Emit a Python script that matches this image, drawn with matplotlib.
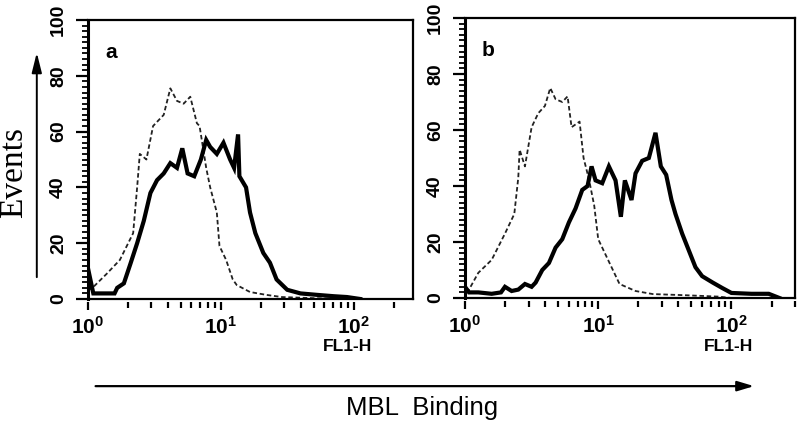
import matplotlib
matplotlib.use("Agg")
import matplotlib.pyplot as plt
import numpy as np
from matplotlib.ticker import FixedLocator, FixedFormatter, MultipleLocator, NullFormatter

plt.rcParams['mathtext.fontset'] = 'custom'
plt.rcParams['mathtext.rm'] = 'Liberation Sans:bold'
plt.rcParams['mathtext.it'] = 'Liberation Sans:bold'
plt.rcParams['mathtext.bf'] = 'Liberation Sans:bold'

# ---------------- data (log10 of FL1-H channel, events) ----------------
a_ctrl_log = [0.00, 0.04, 0.14, 0.24, 0.34, 0.37, 0.39, 0.44, 0.49, 0.57, 0.62, 0.67,
              0.72, 0.77, 0.82, 0.84, 0.89, 0.92, 0.97, 0.99, 1.04, 1.09, 1.12, 1.22,
              1.34, 1.46, 1.70, 2.00]
a_ctrl_val = [3, 4.3, 9, 14, 23.6, 40, 52, 50, 62, 66, 75.5, 71,
              70, 72.5, 63, 62, 47, 40, 31, 19, 14, 7, 5, 2.5,
              1.5, 0.7, 0.3, 0]

a_mbl_log = [0.00, 0.04, 0.10, 0.20, 0.22, 0.27, 0.32, 0.37, 0.42, 0.47, 0.52, 0.57,
             0.62, 0.67, 0.71, 0.75, 0.80, 0.85, 0.89, 0.92, 0.97, 1.02, 1.07, 1.10,
             1.13, 1.14, 1.19, 1.22, 1.26, 1.32, 1.37, 1.42, 1.50, 1.60, 1.72, 1.85,
             1.95, 2.05]
a_mbl_val = [11, 2, 2, 2, 4, 5.6, 12.7, 20, 28, 38, 42.6, 45,
             48.7, 47, 54, 45, 44, 50, 57, 54.5, 52, 56, 50, 47,
             59, 44, 40, 31, 23.6, 16.5, 13, 7, 3.3, 2, 1.5, 1,
             0.7, 0]

b_ctrl_log = [0.00, 0.03, 0.10, 0.20, 0.30, 0.37, 0.40, 0.41, 0.45, 0.50, 0.55, 0.60,
              0.64, 0.68, 0.73, 0.77, 0.80, 0.86, 0.89, 0.93, 0.97, 1.00, 1.05, 1.10,
              1.16, 1.28, 1.41, 1.65, 1.90, 2.00]
b_ctrl_val = [3, 3, 9, 13.6, 23, 30, 43, 53, 47, 61, 66, 68.6,
              75, 71, 70, 72, 61, 63, 50, 42.5, 33, 21, 16, 11,
              5, 2.5, 1.4, 1, 0.5, 0]

b_mbl_log = [0.00, 0.03, 0.10, 0.20, 0.27, 0.30, 0.35, 0.40, 0.45, 0.50, 0.53, 0.58,
             0.63, 0.68, 0.73, 0.78, 0.83, 0.88, 0.92, 0.95, 0.98, 1.03, 1.08, 1.13,
             1.17, 1.20, 1.25, 1.28, 1.33, 1.38, 1.43, 1.47, 1.51, 1.55, 1.58, 1.63,
             1.68, 1.73, 1.78, 1.86, 1.93, 2.00, 2.15, 2.28, 2.36]
b_mbl_val = [4, 2, 2, 1.5, 2, 4, 2.5, 3, 5, 4, 5.5, 10,
             12.5, 18, 21, 27, 32, 38.6, 40, 47, 42, 41, 47, 42,
             29, 42, 35, 44.5, 49, 50, 59, 47, 44, 35, 30, 23,
             17, 11, 7.8, 5.5, 3.6, 1.8, 1.5, 1.5, 0]

panel_labels = ["a", "b"]
x_limits = [(1, 280), (1, 300)]
x_major = [1, 10, 100]
x_major_labels = [r"$10^{0}$", r"$10^{1}$", r"$10^{2}$"]
x_minor = [2, 3, 4, 5, 6, 7, 8, 9, 20, 30, 40, 50, 60, 70, 80, 90, 200, 300]
y_major = [0, 20, 40, 60, 80, 100]

# ---------------- figure ----------------
fig = plt.figure(figsize=(8, 4.3), dpi=100)
ax_rects = [[88/800, 1-299/430, 325/800, 279/430],
            [465/800, 1-298/430, 330/800, 280/430]]

series = [(a_ctrl_log, a_ctrl_val, a_mbl_log, a_mbl_val),
          (b_ctrl_log, b_ctrl_val, b_mbl_log, b_mbl_val)]

for i, rect in enumerate(ax_rects):
    ax = fig.add_axes(rect)
    cl, cv, ml, mv = series[i]
    ax.plot(10**np.array(cl), cv, color='#222222',
            lw=1.3, linestyle=(0, (2.5, 1.5)))
    ax.plot(10**np.array(ml), mv, color='black', lw=3.0, solid_joinstyle='miter')
    ax.set_xscale('log')
    ax.set_xlim(*x_limits[i])
    ax.set_ylim(0, 100)
    for s in ax.spines.values():
        s.set_linewidth(1.6)
    ax.spines['left'].set_linewidth(2.2)
    # y axis
    ax.yaxis.set_major_locator(FixedLocator(y_major))
    ax.yaxis.set_minor_locator(MultipleLocator(2))
    ax.tick_params(axis='y', which='major', direction='out', length=9, width=1.6,
                   labelsize=14, pad=6, labelrotation=90)
    ax.tick_params(axis='y', which='minor', direction='out', length=4.5, width=1.3)
    for lab in ax.get_yticklabels():
        lab.set_fontweight('bold')
        lab.set_fontfamily('Liberation Sans')
        lab.set_va('center')
    # x axis: primary has no ticks, detached secondary axis carries them
    ax.tick_params(axis='x', which='both', bottom=False, labelbottom=False)
    sec = ax.secondary_xaxis(-0.012)
    sec.spines['bottom'].set_visible(False)
    sec.xaxis.set_major_locator(FixedLocator(x_major))
    sec.xaxis.set_major_formatter(FixedFormatter(x_major_labels))
    sec.xaxis.set_minor_locator(FixedLocator(x_minor))
    sec.xaxis.set_minor_formatter(NullFormatter())
    sec.tick_params(axis='x', which='major', direction='out', length=6, width=1.6,
                    labelsize=15, pad=4)
    sec.tick_params(axis='x', which='minor', direction='out', length=4, width=1.6)
    ax.text(0.07, 0.885, panel_labels[i], transform=ax.transAxes, fontsize=15,
            fontweight='bold', family='Liberation Sans', ha='center', va='center')
    ax.text(0.797, -0.172, "FL1-H", transform=ax.transAxes, fontsize=12.5,
            fontweight='bold', family='Liberation Sans',
            ha='center', va='center')

# axis annotations
fig.text(0.0175, 0.598, "Events", rotation=90, family='Liberation Serif',
         fontsize=24, ha='center', va='center')
fig.text(0.5275, 0.051, "MBL  Binding", family='Liberation Sans',
         fontsize=18.5, ha='center', va='center')
fig.patches.append(matplotlib.patches.FancyArrowPatch(
    (0.116, 0.102), (0.946, 0.102), transform=fig.transFigure,
    arrowstyle='-|>,head_length=10,head_width=3', lw=1.6, color='black',
    mutation_scale=1))
fig.patches.append(matplotlib.patches.FancyArrowPatch(
    (0.046, 0.349), (0.046, 0.884), transform=fig.transFigure,
    arrowstyle='-|>,head_length=12,head_width=3', lw=1.4, color='black',
    mutation_scale=1))

fig.savefig("out.png", dpi=100)
